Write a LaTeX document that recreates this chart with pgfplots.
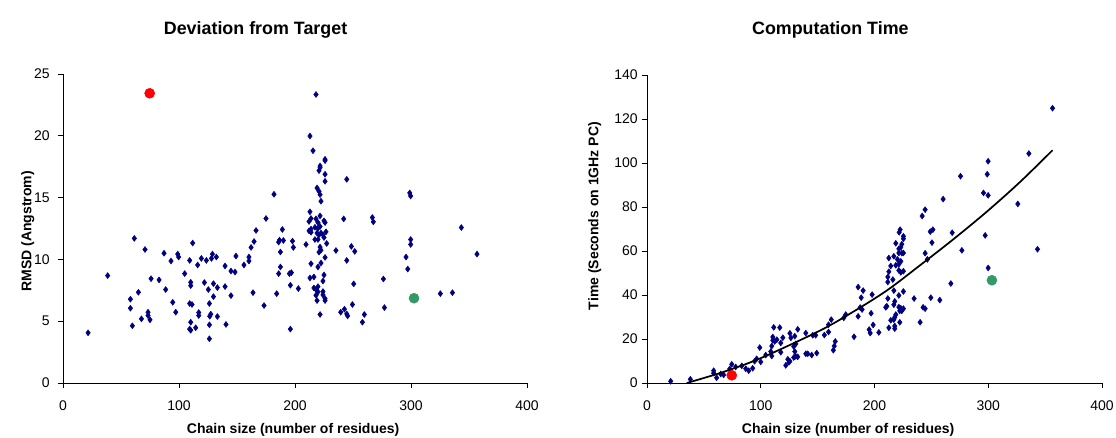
\documentclass[border=0pt]{standalone}
\usepackage{pgfplots}
\pgfplotsset{compat=1.18}
\usepackage{fontspec}
\setmainfont{Liberation Sans}

\definecolor{ptnavy}{RGB}{0,0,128}
\definecolor{ptred}{RGB}{255,0,0}
\definecolor{ptgreen}{RGB}{51,153,102}

\pgfplotsset{
    every axis title shift=0pt,
    exstyle/.style={
        scale only axis,
        anchor=south west,
        axis lines*=left,
        axis line style={-, black, line width=0.7pt},
        tick style={black, line width=0.7pt},
        tick align=outside,
        major tick length=3.75pt,
        xmin=0, xmax=400,
        xtick={0,100,200,300,400},
        clip mode=individual,
        /pgf/number format/assume math mode=true,
        tick label style={font=\fontsize{10.5}{12}\selectfont},
        xticklabel style={anchor=north, inner sep=0pt, yshift=-9.5pt},
        label style={font=\fontsize{10.5}{12}\selectfont\bfseries},
        title style={font=\fontsize{13.4}{15}\selectfont\bfseries, anchor=base},
        xlabel style={anchor=base},
        ylabel style={anchor=base},
    },
    navyset/.style={only marks, mark=diamond*, mark size=2.2pt,
        mark options={fill=ptnavy, draw=ptnavy}},
}

\begin{document}
\begin{tikzpicture}
\path[use as bounding box] (0,0) rectangle (837pt,327.75pt);

% left chart: RMSD
\begin{axis}[
    exstyle,
    at={(47.25pt,40.5pt)},
    width=348pt, height=231.75pt,
    ymin=0, ymax=25,
    ytick={0,5,10,15,20,25},
    yticklabel style={anchor=east, inner sep=0pt, xshift=-6pt},
    title={Deviation from Target},
    title style={at={(axis description cs:0.415,1.128)}},
    xlabel={Chain size (number of residues)},
    xlabel style={at={(axis description cs:0.496,-0.163)}},
    ylabel={RMSD (Angstrom)},
    ylabel style={at={(axis description cs:-0.068,0.491)}},
]
\addplot[navyset] coordinates {
(21.6,4.06)(38.5,8.69)(61.5,11.7)(70.7,10.8)(58.1,6.78)(58.1,6.05)(65,7.34)(59.8,4.63)
(67.6,5.19)(73.3,5.73)(73.3,5.46)(75,5.11)(75.9,8.44)(82.8,8.34)(87.1,10.5)(88.5,7.56)
(93.1,9.87)(94.6,6.53)(97.2,5.73)(98.9,10.43)(99.7,10.19)(104.9,8.85)(109.2,9.92)(111.8,11.32)
(110.1,8.15)(110.1,7.88)(109.2,6.43)(111.2,6.35)(110.1,4.92)(109.2,4.36)(110.1,4.27)(114.4,4.47)
(116.1,9.55)(117,5.7)(117,5.46)(119.3,10.08)(121.9,8.13)(123.6,9.92)(125.3,7.56)(126.2,6.43)
(126.2,4.71)(126.2,3.58)(126.5,5.4)(127.4,5.57)(128,10.08)(128.8,10.43)(129.7,8.04)(129.7,6.99)
(132.2,10.19)(133.1,7.72)(133.1,5.38)(139.7,9.47)(139.7,7.8)(140.5,4.74)(144.8,9.06)(144.8,7.07)
(148.3,8.98)(149.1,10.27)(156,9.55)(160.3,10.19)(160.3,9.87)(162.1,10.97)(163.8,7.31)(164.7,11.45)
(166.4,12.34)(173.3,6.27)(175,13.31)(181.9,15.27)(184.2,7.23)(185.9,11.4)(185.9,8.85)(186.6,11.56)
(187.4,10.6)(187.4,9.39)(189.1,12.42)(190,11.53)(195.2,8.85)(196,7.91)(196,4.36)(196.9,8.93)
(197.8,11.48)(198.6,10.97)(202.9,7.64)
(218.1,23.34)(212.9,19.98)(215.5,18.79)(225.9,18.1)(225.9,17.99)(221.6,17.56)(221.6,17.42)(220.7,17.18)
(225.9,16.89)(225.9,16.32)(244.6,16.48)(219,15.78)(220.7,15.51)(221.6,15.24)(222.4,14.71)(298.9,15.38)
(299.7,15.13)(212.9,13.85)(221.6,13.52)(242,13.28)(266.7,13.39)(267.5,13.04)(343.4,12.58)(212.1,13.07)
(213.8,13.31)(218.1,13.28)(219.8,12.98)(225,13.12)(225.9,12.98)(212.1,12.31)(213.8,12.45)(213.8,12.2)
(217.2,12.6)(219.8,12.52)(221.6,12.66)(219,12.13)(220.7,11.99)(222.4,12.13)(224.1,11.99)(226.7,12.23)
(225,11.77)(217.2,11.61)(219.8,11.61)(209.5,11.21)(227.3,11.29)(221.6,11.0)(222.4,10.75)(220.7,10.59)
(225.9,10.16)(235.3,10.72)(248.6,11.05)(251.5,10.65)(244.6,9.92)(295.7,10.19)(297.2,9.22)(299.7,11.61)
(299.7,11.21)(213.8,9.65)(222.4,9.71)(219.8,9.39)(212.9,8.5)(216.3,8.58)(225,8.74)(224.1,8.25)
(216.3,7.69)(218.1,7.56)(219.8,7.8)(219.8,7.37)(218.1,7.1)(219,6.67)(224.1,7.4)(224.1,7.13)
(225.9,6.83)(225.9,6.67)(221.6,5.54)(250.6,8.02)(249.5,6.35)(242.6,5.97)(239.4,5.73)(244.6,5.59)
(245.4,5.43)(259.8,5.54)(258.1,4.92)(276.2,8.42)(277.1,6.1)(325.3,7.23)(335.7,7.31)(356.9,10.43)
};
\addplot[only marks, mark=*, mark size=3.75pt, mark options={fill=ptred, draw=ptred}]
    coordinates {(74.7,23.44)};
\addplot[only marks, mark=*, mark size=3.75pt, mark options={fill=ptgreen, draw=ptgreen}]
    coordinates {(302.6,6.86)};
\end{axis}

% right chart: computation time
\begin{axis}[
    exstyle,
    at={(485.25pt,40.5pt)},
    width=341.25pt, height=231pt,
    ymin=0, ymax=140,
    ytick={0,20,40,60,80,100,120,140},
    yticklabel style={anchor=east, inner sep=0pt, xshift=-3pt},
    title={Computation Time},
    title style={at={(axis description cs:0.403,1.131)}},
    xlabel={Chain size (number of residues)},
    xlabel style={at={(axis description cs:0.442,-0.164)}},
    ylabel={Time (Seconds on 1GHz PC)},
    ylabel style={at={(axis description cs:-0.107,0.542)}},
]
\addplot[navyset] coordinates {
(20.8,0.8)(38.1,1.7)(58.6,5.6)(58.6,4.5)(61.2,2.4)(64.8,4.1)(67.4,3.7)(72.7,6.4)
(74.5,8.5)(78,7.3)(83.3,7.8)(86.8,6.5)(89.4,5.6)(92.9,6.7)(94.6,9.9)(96.4,11.0)
(99.1,16.1)(100,9.6)(104.4,12.7)(108.8,14.3)(109.7,12.3)(109.7,16.8)(110.6,20.9)(111.4,25.3)
(110.6,19.4)(112.3,18.9)(114.1,19.7)(116.7,25.2)(117.6,18.2)(117.6,14.0)(119.4,20.6)(122,8.0)
(123.8,10.8)(124.7,9.4)(125.6,22.6)(126.5,20.5)(125.6,9.9)(129,16.6)(129.9,21.3)(130.8,17.8)
(129.9,14.3)(129,11.6)(130.8,12.1)(132.5,24.4)(132.5,11.9)(139.6,22.7)(139.6,13.3)(141.3,13.3)
(144.8,12.7)(145.7,21.7)(148.3,21.7)(149.2,13.6)(155.9,21.8)(159.6,23.2)(159.6,26.5)(162,28.8)
(163.8,14.9)(164.6,16.8)(165.5,18.9)(174.7,31.1)(173,29.6)(182,21.0)(185.6,43.6)(190,42.0)
(188.3,38.8)(187.4,34.3)(189.1,33.4)(185.6,30.3)
(356.5,124.9)(335.7,104.3)(299.9,100.8)(299.1,94.9)(275.6,94)(295.8,86.4)(299.9,85.3)(260.3,83.6)
(326,81.4)(244.5,78.8)(241.9,75.9)(222.5,69.7)(221.7,68.5)(225.4,66.7)(225.4,65.6)(251.3,69.7)
(249,68.8)(268.3,68.3)(297.3,67.1)(250.5,63.8)(218.7,63.5)(224,63.1)(223.1,61.7)(221.4,61.0)
(343.3,60.8)(276.8,60.3)(244.5,59)(221.4,59.1)(224,59)(225.4,59.1)(217,57.6)(212.6,56.8)
(246.5,56.2)(220.2,56.2)(223.1,55.3)(214.3,53.2)(218.7,53.5)(221.4,54.0)(299.9,52.3)(212.6,50.6)
(221.4,51.2)(223.1,50.3)(225.4,50.8)(211.7,48.2)(216.1,47.0)(211.7,45.9)(267.1,45.2)(217,42.0)
(225.4,41.6)(197.9,40.2)(221.4,39.8)(234.8,38.4)(249.5,38.8)(257.4,37.7)(211.7,38.4)(217.8,37.1)
(217,35.6)(210.8,34.9)(209.9,34.4)(221.4,34.5)(223.1,34.0)(225.4,33.8)(222.2,32.8)(224,32.8)
(242.7,34.4)(244.5,33.8)(197,31.7)(218.7,31.1)(217.8,29.9)(214.3,28.5)(217,28.8)(222.2,27.6)
(240.1,27.6)(198.8,26.4)(195.3,24.3)(196.2,22.7)(203.8,23.0)(212.6,25.1)(217.8,25.9)(217.8,24.7)
};
% trend line
\addplot[black, line width=1.3pt, smooth] coordinates {
(35,0)(67,5)(100,11.3)(152,23.8)(181,32.3)(211,42.1)(240,53.5)(269,65.2)(299,78)(328,91.4)(356.5,105.8)
};
\addplot[only marks, mark=*, mark size=3.75pt, mark options={fill=ptred, draw=ptred}]
    coordinates {(74.5,3.5)};
\addplot[only marks, mark=*, mark size=3.75pt, mark options={fill=ptgreen, draw=ptgreen}]
    coordinates {(303.2,46.7)};
\end{axis}
\end{tikzpicture}
\end{document}
